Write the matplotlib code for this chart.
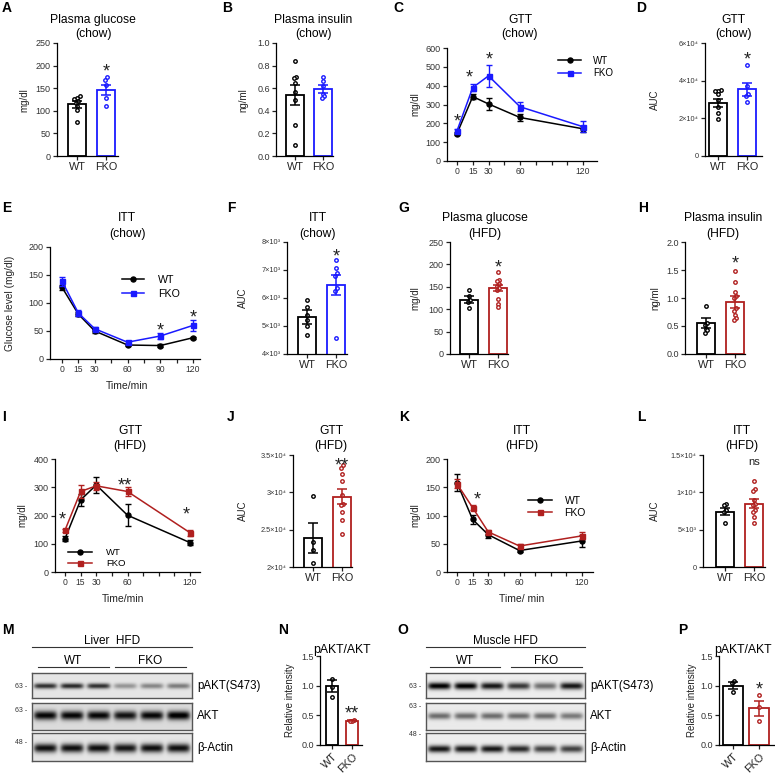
import numpy as np
import matplotlib
matplotlib.use('Agg')
import matplotlib.pyplot as plt

plt.rcParams['font.family'] = ['Liberation Sans', 'DejaVu Sans']
plt.rcParams['axes.linewidth'] = 0.9

W, H = 775, 778
BLUE = '#1a1aff'
RED = '#b0201f'

# ---- data ----
groups = ['WT', 'FKO']

# A plasma glucose (chow), mg/dl
a_wt = [133, 128, 126, 122, 118, 110, 102, 75]
a_fko = [174, 168, 157, 129, 110]
a_mean, a_sem = [114, 146], [7, 12]
# B plasma insulin (chow), ng/ml
b_wt = [0.84, 0.70, 0.69, 0.65, 0.57, 0.50, 0.27, 0.10]
b_fko = [0.70, 0.66, 0.62, 0.55, 0.53, 0.51]
b_mean, b_sem = [0.54, 0.595], [0.09, 0.035]
# C GTT (chow)
gtt_t = [0, 15, 30, 60, 120]
c_wt, c_wt_err = [146, 342, 303, 231, 171], [10, 15, 33, 20, 15]
c_fko, c_fko_err = [160, 390, 452, 288, 182], [10, 20, 60, 25, 30]
# D GTT AUC (chow)
d_wt = [3.50e4, 3.47e4, 3.45e4, 3.27e4, 2.97e4, 2.60e4, 2.26e4, 1.94e4]
d_fko = [4.82e4, 3.74e4, 3.27e4, 3.20e4, 2.85e4]
d_mean, d_sem = [2.80e4, 3.55e4], [0.22e4, 0.35e4]
# E ITT (chow)
itt_t = [0, 15, 30, 60, 90, 120]
e_wt, e_wt_err = [128, 80, 50, 25, 24, 38], [4, 4, 3, 2, 2, 2]
e_fko, e_fko_err = [139, 82, 54, 30, 41, 60], [8, 6, 3, 3, 6, 10]
# F ITT AUC (chow)
f_wt = [5.92e3, 5.69e3, 5.39e3, 5.20e3, 5.00e3, 4.68e3]
f_fko = [7.35e3, 7.07e3, 6.90e3, 6.79e3, 6.34e3, 6.24e3, 4.58e3]
f_mean, f_sem = [5.32e3, 6.47e3], [0.25e3, 0.35e3]
# G plasma glucose (HFD)
g_wt = [142, 130, 121, 117, 102]
g_fko = [183, 166, 162, 156, 152, 147, 143, 123, 112, 104]
g_mean, g_sem = [121, 147], [8, 7]
# H plasma insulin (HFD)
h_wt = [0.86, 0.56, 0.52, 0.45, 0.42, 0.38]
h_fko = [1.49, 1.28, 1.10, 1.03, 1.00, 0.82, 0.76, 0.70, 0.65, 0.60]
h_mean, h_sem = [0.56, 0.93], [0.09, 0.10]
# I GTT (HFD)
i_wt, i_wt_err = [118, 255, 308, 201, 104], [8, 20, 30, 38, 10]
i_fko, i_fko_err = [148, 285, 305, 285, 139], [5, 22, 15, 15, 10]
# J GTT AUC (HFD)
j_wt = [2.95e4, 2.34e4, 2.23e4, 2.05e4]
j_fko = [3.36e4, 3.33e4, 3.25e4, 3.15e4, 2.96e4, 2.85e4, 2.83e4, 2.73e4, 2.63e4, 2.44e4]
j_mean, j_sem = [2.39e4, 2.94e4], [0.2e4, 0.1e4]
# K ITT (HFD)
k_wt, k_wt_err = [158, 93, 66, 38, 55], [15, 8, 5, 3, 10]
k_fko, k_fko_err = [156, 114, 71, 46, 64], [8, 5, 3, 3, 6]
# L ITT AUC (HFD)
l_wt = [8.4e3, 8.3e3, 7.6e3, 7.3e3, 5.85e3]
l_fko = [11.5e3, 10.4e3, 10.2e3, 9.0e3, 8.5e3, 8.3e3, 7.7e3, 7.3e3, 6.7e3, 5.85e3]
l_mean, l_sem = [7.4e3, 8.5e3], [0.5e3, 0.6e3]
# N liver pAKT/AKT
n_wt, n_fko = [1.11, 0.98, 0.81], [0.42, 0.41, 0.40]
n_mean, n_sem = [1.0, 0.41], [0.1, 0.01]
# P muscle pAKT/AKT
p_wt, p_fko = [1.08, 1.05, 0.90], [0.84, 0.64, 0.40]
p_mean, p_sem = [1.0, 0.62], [0.06, 0.13]

# western blot band darkness per lane (WT x3, FKO x3)
liver_pakt = [0.72, 0.75, 0.72, 0.32, 0.38, 0.42]
liver_akt = [0.85, 0.85, 0.85, 0.80, 0.85, 0.90]
liver_actin = [0.85, 0.85, 0.85, 0.82, 0.85, 0.85]
muscle_pakt = [0.95, 0.95, 0.85, 0.72, 0.50, 0.85]
muscle_akt = [0.50, 0.50, 0.50, 0.50, 0.50, 0.45]
muscle_actin = [0.85, 0.85, 0.85, 0.78, 0.68, 0.68]

fig = plt.figure(figsize=(W / 100, H / 100), dpi=100)


def px_axes(l, t, r, b):
    return fig.add_axes([l / W, 1 - b / H, (r - l) / W, (b - t) / H])


def ftext(x, y, s, **kw):
    kw.setdefault('ha', 'center')
    kw.setdefault('va', 'baseline')
    fig.text(x / W, 1 - y / H, s, **kw)


def style(ax):
    for s in ['top', 'right']:
        ax.spines[s].set_visible(False)
    ax.tick_params(length=3, width=0.9, color='#222', labelsize=6.5, labelcolor='#333', pad=1.5)


def swarm(vals, tol, step):
    # small sideways offsets for points that sit close together
    vals = np.asarray(vals, float)
    order = np.argsort(vals)
    offs = np.zeros(len(vals))
    grp = [order[0]]

    def place(g):
        n = len(g)
        for k, idx in enumerate(g):
            offs[idx] = (k - (n - 1) / 2) * step
    for idx in order[1:]:
        if vals[idx] - vals[grp[0]] < tol and len(grp) < 3:
            grp.append(idx)
        else:
            place(grp)
            grp = [idx]
    place(grp)
    return offs


def star(ax, x, y, s='*', fs=13):
    ax.annotate(s, (x, y), xytext=(0, -0.62 * fs), textcoords='offset points',
                ha='center', va='baseline', fontsize=fs, color='#222', annotation_clip=False)


def bar_panel(box, centers, wt, fko, means, sems, col, ylim, yticks, ylabels,
              bw_px=18, rot=False, small=False):
    l, t, r, b = box
    wc, fc = centers
    unit = fc - wc
    ax = px_axes(l, t, r, b)
    style(ax)
    ax.set_xlim((l - wc) / unit, 1 + (r - fc) / unit)
    ax.set_ylim(ylim)
    ax.bar([0, 1], means, width=bw_px / unit, color='white',
           edgecolor=['black', col], linewidth=1.3, zorder=1)
    span = ylim[1] - ylim[0]
    for i, (pts, c) in enumerate([(wt, 'black'), (fko, col)]):
        offs = swarm(pts, span * 0.03, 0.1)
        ax.plot(i + offs, pts, 'o', ms=2.5, mfc='white', mec=c, mew=1.0,
                zorder=3, clip_on=False)
        ax.errorbar(i, means[i], yerr=sems[i], color=c, capsize=3.5,
                    elinewidth=1.1, capthick=1.1, zorder=4)
    ax.set_yticks(yticks, ylabels)
    if small:
        ax.tick_params(axis='y', labelsize=5.3)
    if rot:
        ax.set_xticks([0, 1], groups, rotation=45, ha='right', rotation_mode='anchor')
    else:
        ax.set_xticks([0, 1], groups)
    for lab in ax.get_xticklabels():
        lab.set_fontsize(7.8)
        lab.set_color('#222')
    return ax


def line_panel(box, x0, x120, t, wt, wte, fko, fkoe, col, ylim, yticks, xlabels):
    l, tp, r, b = box
    ppm = (x120 - x0) / 120
    ax = px_axes(l, tp, r, b)
    style(ax)
    ax.set_xlim((l - x0) / ppm, (r - x0) / ppm)
    ax.set_ylim(ylim)
    ax.errorbar(t, wt, yerr=wte, fmt='none', ecolor='black', capsize=2.5,
                elinewidth=1, capthick=1, zorder=2)
    h1, = ax.plot(t, wt, '-o', color='black', ms=3.6, lw=1.1, zorder=3)
    ax.errorbar(t, fko, yerr=fkoe, fmt='none', ecolor=col, capsize=2.5,
                elinewidth=1, capthick=1, zorder=4)
    h2, = ax.plot(t, fko, '-s', color=col, ms=3.6, lw=1.1, zorder=5)
    ticks = list(range(0, 121, 15))
    ax.set_xticks(ticks, [str(v) if v in xlabels else '' for v in ticks])
    ax.tick_params(axis='x', labelsize=6.2)
    ax.set_yticks(yticks)
    return ax, h1, h2


def legend_px(ax, handles, x, y, fs, hl, tp, sp):
    ax.legend(handles, groups, loc='center left', bbox_to_anchor=(x / W, 1 - y / H),
              bbox_transform=fig.transFigure, frameon=False, fontsize=fs,
              handlelength=hl, handletextpad=tp, labelspacing=sp,
              borderpad=0, borderaxespad=0)


def title2(x, y1, y2, l1, l2, fs=8.7):
    ftext(x, y1, l1, fontsize=fs)
    if l2:
        ftext(x, y2, l2, fontsize=fs)


def ylab(x, y, s, fs=7):
    ftext(x, y, s, rotation=90, va='center', fontsize=fs, color='#222')


def letter(x, y, s):
    ftext(x, y, s, ha='left', fontsize=10, fontweight='bold')


# ---------- row 1 ----------
letter(2, 12, 'A')
title2(93, 23, 37, 'Plasma glucose', '(chow)')
ax = bar_panel((57, 43, 118, 156), (77, 106), a_wt, a_fko, a_mean, a_sem, BLUE,
               (0, 250), range(0, 251, 50), [str(v) for v in range(0, 251, 50)])
star(ax, 1, 200)
ylab(24, 100, 'mg/dl')

letter(222, 12, 'B')
title2(313, 23, 37, 'Plasma insulin', '(chow)')
bt = [0, 0.2, 0.4, 0.6, 0.8, 1.0]
ax = bar_panel((276, 43, 333, 156), (295, 323), b_wt, b_fko, b_mean, b_sem, BLUE,
               (0, 1.0), bt, ['%.1f' % v for v in bt])
ylab(243, 100, 'ng/ml')

letter(393, 12, 'C')
title2(520, 23, 37, 'GTT', '(chow)')
ax, h1, h2 = line_panel((447, 48, 597, 161), 457, 583, gtt_t, c_wt, c_wt_err,
                        c_fko, c_fko_err, BLUE, (0, 600), range(0, 601, 100),
                        [0, 15, 30, 60, 120])
star(ax, 0, 244)
star(ax, 12, 475)
star(ax, 30.5, 573)
legend_px(ax, [h1, h2], 558, 67, 7, 2.4, 1.2, 0.25)
ylab(415, 104, 'mg/dl')

letter(636, 12, 'D')
title2(733, 23, 37, 'GTT', '(chow)')
ax = bar_panel((705, 43, 762, 156), (718, 747), d_wt, d_fko, d_mean, d_sem, BLUE,
               (0, 6e4), [0, 2e4, 4e4, 6e4], ['0', '2×10⁴', '4×10⁴', '6×10⁴'],
               small=True)
star(ax, 1, 5.46e4)
ylab(655, 100, 'AUC')

# ---------- row 2 ----------
letter(2, 212, 'E')
title2(127, 221, 237, 'ITT', '(chow)')
ax, h1, h2 = line_panel((50, 247, 200, 359), 62, 193, itt_t, e_wt, e_wt_err,
                        e_fko, e_fko_err, BLUE, (0, 200), range(0, 201, 50),
                        [0, 15, 30, 60, 90, 120])
star(ax, 90, 62)
star(ax, 120, 86)
legend_px(ax, [h1, h2], 122, 287, 7.7, 2.1, 1.3, 0.35)
ylab(10, 303, 'Glucose level (mg/dl)', fs=7.3)
ftext(127, 389, 'Time/min', fontsize=7.5, color='#222')

letter(227, 212, 'F')
title2(318, 221, 237, 'ITT', '(chow)')
ax = bar_panel((287, 242, 347, 354), (307, 336), f_wt, f_fko, f_mean, f_sem, BLUE,
               (4e3, 8e3), [4e3, 5e3, 6e3, 7e3, 8e3],
               ['4×10³', '5×10³', '6×10³', '7×10³', '8×10³'], small=True)
star(ax, 1, 7.7e3)
ylab(243, 298, 'AUC')

letter(398, 212, 'G')
title2(485, 221, 237, 'Plasma glucose', '(HFD)')
ax = bar_panel((450, 242, 508, 354), (469, 498), g_wt, g_fko, g_mean, g_sem, RED,
               (0, 250), range(0, 251, 50), [str(v) for v in range(0, 251, 50)])
star(ax, 1, 207)
ylab(415, 298, 'mg/dl')

letter(638, 212, 'H')
title2(723, 221, 237, 'Plasma insulin', '(HFD)')
ht = [0, 0.5, 1.0, 1.5, 2.0]
ax = bar_panel((685, 242, 745, 354), (706, 735), h_wt, h_fko, h_mean, h_sem, RED,
               (0, 2.0), ht, ['%.1f' % v for v in ht])
star(ax, 1, 1.725)
ylab(655, 298, 'ng/ml')

# ---------- row 3 ----------
letter(2, 421, 'I')
title2(130, 434, 449, 'GTT', '(HFD)')
ax, h1, h2 = line_panel((55, 459, 200, 572), 65, 190, gtt_t, i_wt, i_wt_err,
                        i_fko, i_fko_err, RED, (0, 400), range(0, 401, 100),
                        [0, 15, 30, 60, 120])
star(ax, -3, 207)
star(ax, 57, 329, '**')
star(ax, 116, 225)
legend_px(ax, [h1, h2], 68, 558, 6.8, 2.5, 1.5, 0.2)
ylab(22, 515, 'mg/dl')
ftext(123, 602, 'Time/min', fontsize=7.5, color='#222')

letter(227, 421, 'J')
title2(331, 434, 449, 'GTT', '(HFD)')
ax = bar_panel((293, 455, 352, 567), (313, 342), j_wt, j_fko, j_mean, j_sem, RED,
               (2e4, 3.5e4), [2e4, 2.5e4, 3e4, 3.5e4],
               ['2×10⁴', '2.5×10⁴', '3×10⁴', '3.5×10⁴'], small=True)
star(ax, 1, 3.446e4, '**')
ylab(243, 511, 'AUC')

letter(399, 421, 'K')
title2(522, 434, 449, 'ITT', '(HFD)')
ax, h1, h2 = line_panel((447, 459, 593, 572), 457, 582, gtt_t, k_wt, k_wt_err,
                        k_fko, k_fko_err, RED, (0, 200), range(0, 201, 50),
                        [0, 15, 30, 60, 120])
star(ax, 19, 140)
legend_px(ax, [h1, h2], 528, 507, 7.5, 2.3, 1.2, 0.2)
ylab(415, 515, 'mg/dl')
ftext(522, 602, 'Time/ min', fontsize=7.5, color='#222')

letter(637, 421, 'L')
title2(742, 434, 449, 'ITT', '(HFD)')
ax = bar_panel((703, 455, 765, 567), (725, 754), l_wt, l_fko, l_mean, l_sem, RED,
               (0, 1.5e4), [0, 5e3, 1e4, 1.5e4], ['0', '5×10³', '1×10⁴', '1.5×10⁴'],
               small=True)
ax.annotate('ns', (1, 1.404e4), ha='center', va='center', fontsize=8, color='#222',
            annotation_clip=False)
ylab(655, 511, 'AUC')


# ---------- row 4: western blots ----------
def blot(box, dens, bg, yc, hw):
    l, t, r, b = box
    ax = px_axes(l, t, r, b)
    nx, ny = int(r - l) * 3, int(b - t) * 3
    x = np.linspace(0, 1, nx)[None, :]
    y = np.linspace(0, 1, ny)[:, None]
    img = np.full((ny, nx), bg)
    for i, d in enumerate(dens):
        c = (i + 0.5) / len(dens)
        img = img - d * np.exp(-((x - c) / 0.072) ** 6) * np.exp(-((y - yc) / hw) ** 2)
    ax.imshow(np.clip(img, 0, 1), cmap='gray', vmin=0, vmax=1, aspect='auto',
              interpolation='bilinear')
    ax.set_xticks([])
    ax.set_yticks([])
    for s in ax.spines.values():
        s.set_linewidth(1.0)
        s.set_color('#555')


def blot_set(x0, x1, title, rows, mw_x, mw_y, wt_line, fko_line):
    ftext((x0 + x1) / 2, 644, title, fontsize=8.5)
    fig.add_artist(plt.Line2D([x0 / W, x1 / W], [1 - 647 / H] * 2, color='#333', lw=0.8))
    for (a, b_), name in [(wt_line, 'WT'), (fko_line, 'FKO')]:
        ftext((a + b_) / 2, 664, name, fontsize=8.5)
        fig.add_artist(plt.Line2D([a / W, b_ / W], [1 - 667 / H] * 2, color='#333', lw=0.8))
    for (t, b_, dens, bg, yc, hw), mwy, mw, lab, ly in zip(
            rows, mw_y, ['63', '63', '48'], ['pAKT(S473)', 'AKT', 'β-Actin'],
            [686, 716, 748]):
        blot((x0, t, x1, b_), dens, bg, yc, hw)
        ftext(mw_x, mwy, mw + ' -', fontsize=5, ha='left', va='center', color='#333')
        ftext(x1 + 5, ly, lab, fontsize=8.3, ha='left', va='center')


letter(2, 634, 'M')
blot_set(32, 192, 'Liver  HFD',
         [(673, 698, liver_pakt, 0.90, 0.52, 0.11),
          (703, 730, liver_akt, 0.86, 0.48, 0.16),
          (733, 761, liver_actin, 0.90, 0.54, 0.16)],
         15, [686, 711, 743], (38, 109), (115, 186))

letter(397, 634, 'O')
blot_set(426, 585, 'Muscle HFD',
         [(673, 698, muscle_pakt, 0.93, 0.52, 0.14),
          (703, 730, muscle_akt, 0.92, 0.50, 0.12),
          (733, 761, muscle_actin, 0.93, 0.57, 0.13)],
         409, [686, 707, 734], (430, 500), (511, 582))

letter(278, 634, 'N')
ftext(342, 653, 'pAKT/AKT', fontsize=8.8)
nt = [0, 0.5, 1.0, 1.5]
ax = bar_panel((320, 656, 362, 745), (332, 352), n_wt, n_fko, n_mean, n_sem, RED,
               (0, 1.5), nt, ['%.1f' % v for v in nt], bw_px=12, rot=True)
star(ax, 1, 0.64, '**')
ylab(290, 700, 'Relative intensity')

letter(678, 634, 'P')
ftext(743, 653, 'pAKT/AKT', fontsize=8.8)
ax = bar_panel((719, 656, 775, 745), (733, 759), p_wt, p_fko, p_mean, p_sem, RED,
               (0, 1.5), nt, ['%.1f' % v for v in nt], bw_px=20, rot=True)
star(ax, 1, 1.035)
ylab(692, 700, 'Relative intensity')

fig.savefig('out.png', dpi=100)
